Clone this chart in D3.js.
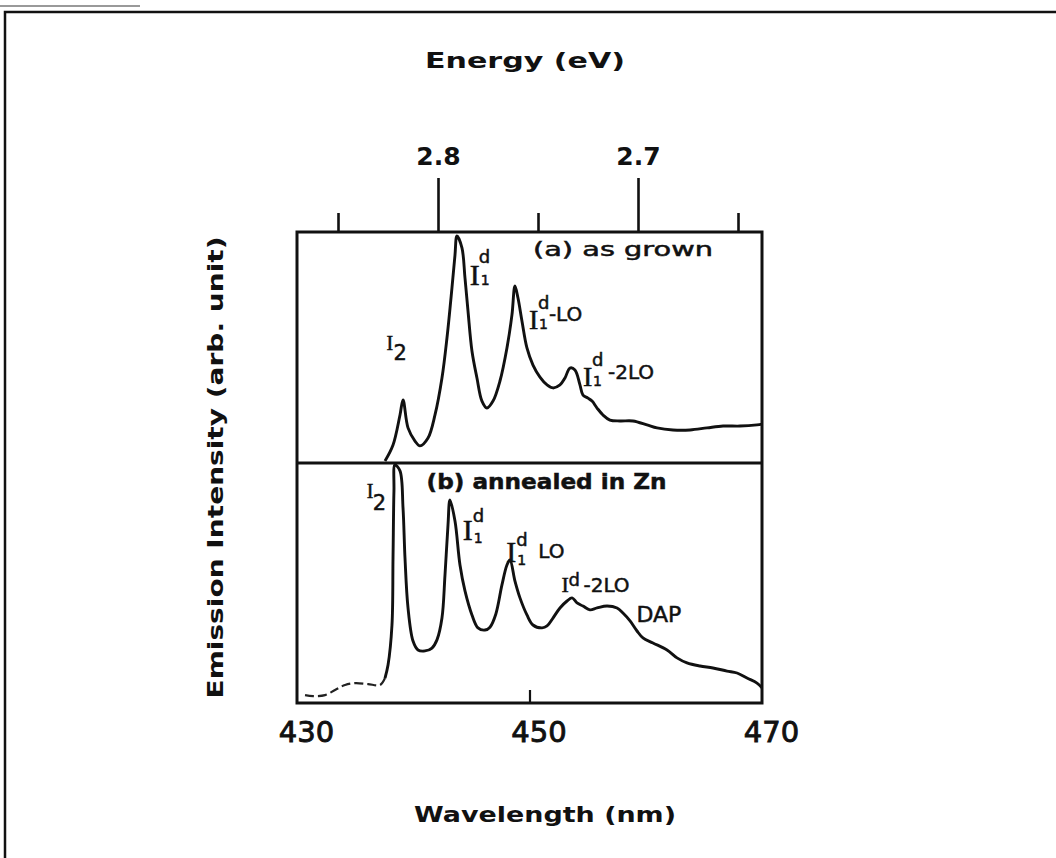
<!DOCTYPE html>
<html>
<head>
<meta charset="utf-8">
<script src="https://cdn.jsdelivr.net/npm/d3@7"></script>
<style>
  body { margin: 0; background: #fff; }
  svg { display: block; }
  text { fill: #111; }
  .notes text { stroke: #111; stroke-width: 0.5; }
</style>
</head>
<body>
<div id="container"></div>
<script>
// (a) as grown
var wavelengthA = [437.57, 438.26, 438.86, 439.12, 439.55, 440.15, 440.58, 441.27, 441.87, 442.47,
  442.90, 443.33, 443.59, 443.76, 444.19, 444.45, 444.71, 445.05, 445.48, 445.91, 446.34, 446.86,
  447.46, 448.06, 448.49, 448.75, 449.01, 449.35, 449.78, 450.30, 450.90, 451.51, 452.02, 452.62,
  453.05, 453.48, 453.91, 454.34, 454.60, 455.03, 455.38, 455.81, 456.32, 456.92, 457.78, 458.90,
  460.11, 460.97, 462.34, 463.81, 465.27, 466.65, 468.11, 469.57, 470.0];
var intensityA = [0.9, 7.8, 20.8, 27.3, 15.2, 9.5, 7.4, 10.8, 20.8, 36.8,
  54.1, 75.8, 90.0, 98.3, 93.1, 80.1, 65.8, 48.5, 36.8, 26.8, 23.8, 26.8,
  35.5, 49.8, 64.1, 76.6, 71.4, 61.5, 49.8, 42.4, 37.2, 33.8, 32.5, 33.8,
  36.8, 41.1, 40.3, 33.8, 29.4, 28.1, 26.8, 23.8, 20.8, 18.6, 18.2, 18.2,
  16.5, 15.2, 14.3, 14.3, 15.2, 16.0, 16.0, 16.5, 16.8];

// (b) annealed in Zn
var wavelengthB = [430.69, 431.38, 432.41, 433.27, 434.13, 434.99, 436.11, 437.14, 437.57, 437.83,
  438.17, 438.26, 438.34, 438.43, 438.86, 439.12, 439.29, 439.55, 439.98, 440.41, 441.01, 441.61,
  442.04, 442.47, 442.73, 442.99, 443.16, 443.59, 444.02, 444.45, 445.05, 445.57, 446.17, 446.6,
  447.1, 447.63, 448.06, 448.32, 448.75, 449.18, 449.78, 450.30, 451.08, 451.51, 452.02, 452.62,
  453.23, 453.66, 454.09, 454.60, 455.20, 455.81, 456.67, 457.53, 458.04, 458.65, 459.25, 459.76,
  460.62, 461.83, 462.69, 463.55, 464.67, 465.78, 466.99, 467.85, 468.71, 469.57, 470.0];
var intensityB = [3.3, 2.9, 3.3, 5.4, 7.5, 8.3, 7.9, 7.5, 10.4, 15.8,
  32.5, 60.4, 88.3, 99.2, 96.7, 81.3, 60.4, 39.6, 25.8, 22.1, 21.7, 22.9,
  26.3, 35.4, 53.3, 74.2, 84.6, 75.8, 57.5, 46.7, 36.7, 31.3, 30.4, 31.6,
  37.0, 49.2, 57.5, 59.6, 50.8, 43.8, 36.7, 32.5, 31.3, 32.1, 35.4, 39.6,
  42.5, 43.8, 41.7, 40.4, 38.8, 39.6, 40.4, 39.6, 37.5, 34.2, 30.0, 27.1,
  25.0, 22.1, 18.8, 16.7, 15.4, 14.6, 13.3, 12.5, 10.4, 8.3, 6.3];
var dashedBelowB = 437.6;   // faint, broken part of trace (b)

var wavelengthTicks = [430, 450, 470];
var energyTicks = [2.85, 2.8, 2.75, 2.7, 2.65];
var energyLabels = [2.8, 2.7];
var energyDomain = [2.8705, 2.638];   // top axis as printed (nearly linear)

(function() {
var width = 1056, height = 858;
var pLeft = 297, pRight = 762, pTop = 232, pMid = 463, pBottom = 703;
var font = '"DejaVu Sans", sans-serif';

var svg = d3.select('#container').append('svg')
  .attr('width', width)
  .attr('height', height)
  .style('font-family', font);

var x = d3.scaleLinear().domain([430, 470]).range([pLeft, pRight]);
var xE = d3.scaleLinear().domain(energyDomain).range([pLeft, pRight]);
var yA = d3.scaleLinear().domain([0, 100]).range([pMid, pTop]);
var yB = d3.scaleLinear().domain([0, 100]).range([pBottom, pMid]);

// page frame (scan edge)
svg.append('line').attr('x1', 0).attr('x2', 140).attr('y1', 6).attr('y2', 6)
  .attr('stroke', '#999').attr('stroke-width', 2);
svg.append('path')
  .attr('d', 'M5,' + height + 'V12H' + width)
  .attr('fill', 'none').attr('stroke', '#111').attr('stroke-width', 2.5);

// top energy axis
var topAxis = d3.axisTop(xE)
  .tickValues(energyTicks)
  .tickSize(0)
  .tickFormat('');
var gTop = svg.append('g').attr('transform', 'translate(0,' + pTop + ')').call(topAxis)
  .attr('font-family', font);
gTop.select('.domain').remove();
gTop.selectAll('.tick').append('line')
  .attr('y1', 0)
  .attr('y2', function(d) { return energyLabels.indexOf(d) >= 0 ? -54 : -19; })
  .attr('stroke', '#111').attr('stroke-width', 2.6);
gTop.selectAll('.tick').filter(function(d) { return energyLabels.indexOf(d) >= 0; })
  .append('text')
  .attr('y', -67)
  .attr('text-anchor', 'middle')
  .attr('fill', '#111')
  .attr('font-size', 25).attr('font-weight', 'bold')
  .text(function(d) { return d3.format('.1f')(d); });

// bottom wavelength axis
var bottomAxis = d3.axisBottom(x)
  .tickValues(wavelengthTicks)
  .tickSize(0)
  .tickPadding(0)
  .tickFormat(d3.format('d'));
var gBot = svg.append('g').attr('transform', 'translate(0,' + pBottom + ')').call(bottomAxis)
  .attr('font-family', font);
gBot.select('.domain').remove();
gBot.selectAll('.tick line').remove();
gBot.selectAll('.tick').filter(function(d, i) { return i > 0 && i < wavelengthTicks.length - 1; })
  .append('line')
  .attr('y1', 0).attr('y2', -13)
  .attr('stroke', '#111').attr('stroke-width', 2.2);
gBot.selectAll('.tick text')
  .attr('dx', 9).attr('dy', 0).attr('y', 39)
  .attr('fill', '#111')
  .attr('stroke', '#111').attr('stroke-width', 0.9)
  .attr('font-size', 29);

// axis titles
svg.append('text')
  .attr('x', 525).attr('y', 68)
  .attr('text-anchor', 'middle')
  .attr('font-size', 22).attr('font-weight', 'bold')
  .attr('textLength', 200).attr('lengthAdjust', 'spacingAndGlyphs')
  .text('Energy (eV)');
svg.append('text')
  .attr('x', 545).attr('y', 822)
  .attr('text-anchor', 'middle')
  .attr('font-size', 22).attr('font-weight', 'bold')
  .attr('textLength', 262).attr('lengthAdjust', 'spacingAndGlyphs')
  .text('Wavelength (nm)');
svg.append('text')
  .attr('transform', 'translate(223,' + ((pTop + pBottom) / 2) + ') rotate(-90)')
  .attr('text-anchor', 'middle')
  .attr('font-size', 22).attr('font-weight', 'bold')
  .attr('textLength', 462).attr('lengthAdjust', 'spacingAndGlyphs')
  .text('Emission Intensity (arb. unit)');

// spectra
var lineA = d3.line()
  .x(function(d) { return x(d[0]); })
  .y(function(d) { return yA(d[1]); })
  .curve(d3.curveCatmullRom.alpha(0.5));
var lineB = d3.line()
  .x(function(d) { return x(d[0]); })
  .y(function(d) { return yB(d[1]); })
  .curve(d3.curveCatmullRom.alpha(0.5));

var seriesA = d3.zip(wavelengthA, intensityA);
var seriesB = d3.zip(wavelengthB, intensityB);
var seriesBFaint = seriesB.filter(function(d) { return d[0] <= dashedBelowB; });
var seriesBMain = seriesB.slice(seriesBFaint.length - 1);

svg.append('path').datum(seriesA)
  .attr('d', lineA)
  .attr('fill', 'none').attr('stroke', '#111').attr('stroke-width', 2.9)
  .attr('stroke-linejoin', 'round');
svg.append('path').datum(seriesBFaint)
  .attr('d', lineB)
  .attr('fill', 'none').attr('stroke', '#222').attr('stroke-width', 2.2)
  .attr('stroke-dasharray', '9,4');
svg.append('path').datum(seriesBMain)
  .attr('d', lineB)
  .attr('fill', 'none').attr('stroke', '#111').attr('stroke-width', 2.9)
  .attr('stroke-linejoin', 'round');

// frames
svg.append('rect')
  .attr('x', pLeft).attr('y', pTop)
  .attr('width', pRight - pLeft).attr('height', pBottom - pTop)
  .attr('fill', 'none').attr('stroke', '#111').attr('stroke-width', 3);
svg.append('line')
  .attr('x1', pLeft).attr('x2', pRight).attr('y1', pMid).attr('y2', pMid)
  .attr('stroke', '#111').attr('stroke-width', 3);

// peak labels
var notes = svg.append('g').attr('class', 'notes');

function ion(ys, w, v, o) {
  var px = x(w), py = ys(v);
  notes.append('text').attr('x', px).attr('y', py)
    .attr('font-family', '"Liberation Serif", serif')
    .attr('font-size', o.size || 28).text('I');
  if (o.sup) notes.append('text').attr('x', px + o.supDx).attr('y', py + o.supDy)
    .attr('font-size', 18).text(o.sup);
  if (o.sub) notes.append('text').attr('x', px + o.subDx).attr('y', py + o.subDy)
    .attr('font-size', o.subSize || 14).text(o.sub);
  if (o.tail) notes.append('text').attr('x', px + o.tailDx).attr('y', py + o.tailDy)
    .attr('font-size', 20).text(o.tail);
}

ion(yA, 437.7, 48.9, {size: 20, sub: '2', subDx: 7, subDy: 10, subSize: 21});
ion(yA, 444.85, 77.1, {size: 30, sup: 'd', supDx: 9, supDy: -22, sub: '1', subDx: 11, subDy: 0});
ion(yA, 449.95, 58.0, {size: 28, sup: 'd', supDx: 9, supDy: -20, sub: '1', subDx: 10, subDy: 0,
  tail: '-LO', tailDx: 20, tailDy: -8});
ion(yA, 454.6, 33.5, {size: 28, sup: 'd', supDx: 9, supDy: -20, sub: '1', subDx: 10, subDy: 0,
  tail: '-2LO', tailDx: 25, tailDy: -7});
notes.append('text')
  .attr('x', x(450.3)).attr('y', yA(89.6))
  .attr('font-size', 19)
  .attr('textLength', 180).attr('lengthAdjust', 'spacingAndGlyphs')
  .text('(a)  as  grown');

ion(yB, 436.0, 85.4, {size: 20, sub: '2', subDx: 6, subDy: 12, subSize: 21});
ion(yB, 444.25, 67.9, {size: 30, sup: 'd', supDx: 10, supDy: -18, sub: '1', subDx: 11, subDy: 3});
ion(yB, 448.0, 58.7, {size: 30, sup: 'd', supDx: 10, supDy: -16, sub: '1', subDx: 11, subDy: 3,
  tail: 'LO', tailDx: 32, tailDy: -4});
ion(yB, 452.75, 46.3, {size: 22, sup: 'd', supDx: 7, supDy: -6, tail: '-2LO', tailDx: 22, tailDy: 0});
notes.append('text')
  .attr('x', x(459.2)).attr('y', yB(33.8))
  .attr('font-size', 22)
  .text('DAP');
notes.append('text')
  .attr('x', x(441.15)).attr('y', yB(89.2))
  .attr('font-size', 22).attr('font-weight', 'bold')
  .attr('textLength', 240).attr('lengthAdjust', 'spacingAndGlyphs')
  .text('(b) annealed  in  Zn');
})();
</script>
</body>
</html>
